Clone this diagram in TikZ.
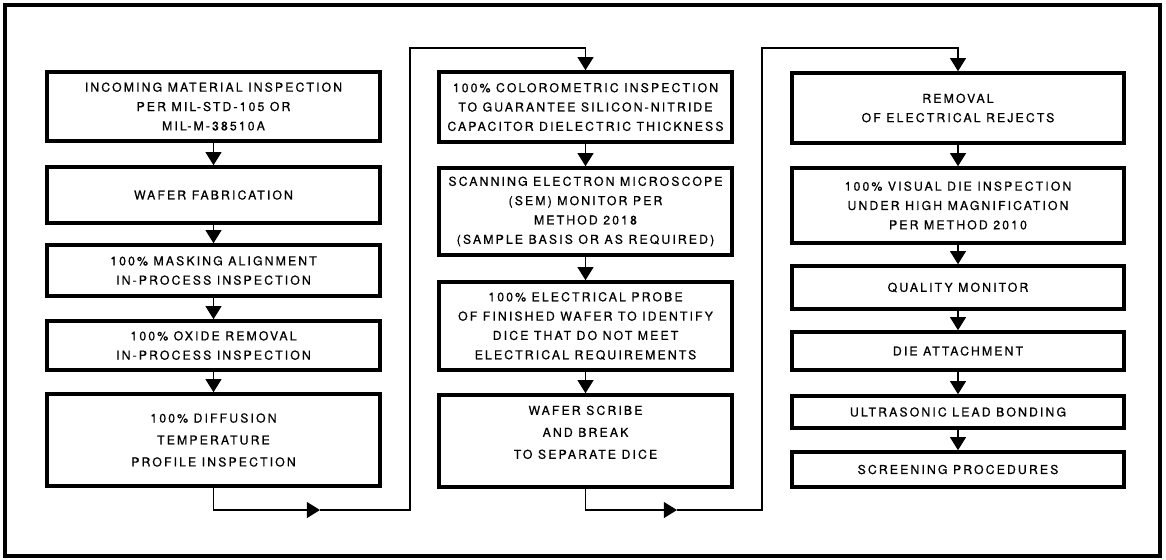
\documentclass[tikz,border=0pt]{standalone}
\usepackage{fontspec}
\newfontfamily\lettering[LetterSpace=17,FakeBold=0.6]{TeX Gyre Heros}
\usetikzlibrary{arrows.meta}
\tikzset{
  stepbox/.style={draw=black,line width=2pt,align=center,inner sep=0pt,
    font=\lettering\fontsize{7}{11}\selectfont},
  boxsize/.style 2 args={minimum width=#1*0.02cm,minimum height=#2*0.02cm},
  widelines/.style={font=\lettering\fontsize{7}{12.5}\selectfont},
  flow/.style={draw=black,line width=1.1pt,-{Triangle[width=9pt,length=7.5pt]}}
}
\begin{document}
\begin{tikzpicture}[x=0.02cm,y=-0.02cm]
\useasboundingbox (0,0) rectangle (1166,559);
\draw[line width=2.5pt] (5,5) rectangle (1160,556);

\begin{scope}[every node/.style={stepbox}]
  % first column
  \node[boxsize={333}{69}] (incoming) at (213.5,106.5) {INCOMING MATERIAL INSPECTION\\PER MIL-STD-105 OR\\MIL-M-38510A};
  \node[boxsize={333}{56}] (fab) at (213.5,195) {WAFER FABRICATION};
  \node[boxsize={333}{51}] (masking) at (213.5,270.5) {100\% MASKING ALIGNMENT\\IN-PROCESS INSPECTION};
  \node[boxsize={333}{49}] (oxide) at (213.5,345.5) {100\% OXIDE REMOVAL\\IN-PROCESS INSPECTION};
  \node[boxsize={333}{92},widelines] (diffusion) at (213.5,440) {100\,\% DIFFUSION\\TEMPERATURE\\PROFILE INSPECTION};
  % second column
  \node[boxsize={293}{70}] (colorimetric) at (585.5,107) {100\% COLOROMETRIC INSPECTION\\TO GUARANTEE SILICON-NITRIDE\\CAPACITOR DIELECTRIC THICKNESS};
  \node[boxsize={293}{87}] (sem) at (585.5,211.5) {SCANNING ELECTRON MICROSCOPE\\(SEM) MONITOR PER\\METHOD 2018\\(SAMPLE BASIS OR AS REQUIRED)};
  \node[boxsize={293}{88}] (probe) at (585.5,326) {100\% ELECTRICAL PROBE\\OF FINISHED WAFER TO IDENTIFY\\DICE THAT DO NOT MEET\\ELECTRICAL REQUIREMENTS};
  \node[boxsize={293}{92},widelines,text depth=10pt] (scribe) at (585.5,441) {WAFER SCRIBE\\AND BREAK\\TO SEPARATE DICE};
  % third column
  \node[boxsize={332}{70}] (rejects) at (958,108) {REMOVAL\\OF ELECTRICAL REJECTS};
  \node[boxsize={332}{75}] (visual) at (958,205.5) {100\% VISUAL DIE INSPECTION\\UNDER HIGH MAGNIFICATION\\PER METHOD 2010};
  \node[boxsize={332}{43}] (quality) at (958,287.5) {QUALITY MONITOR};
  \node[boxsize={332}{38}] (attach) at (958,351) {DIE ATTACHMENT};
  \node[boxsize={332}{32}] (bonding) at (958,412) {ULTRASONIC LEAD BONDING};
  \node[boxsize={332}{35}] (screening) at (958,469.5) {SCREENING PROCEDURES};
\end{scope}

\coordinate (tipA) at (320,510);
\coordinate (turnA) at (410,510);
\coordinate (topA) at (410,48);
\coordinate (tipB) at (677,510);
\coordinate (turnB) at (762,510);
\coordinate (topB) at (762,48);

\begin{scope}[every edge/.style={flow}]
  \path (incoming) edge (fab);
  \path (fab) edge (masking);
  \path (masking) edge (oxide);
  \path (oxide) edge (diffusion);
  \path (colorimetric) edge (sem);
  \path (sem) edge (probe);
  \path (probe) edge (scribe);
  \path (rejects) edge (visual);
  \path (visual) edge (quality);
  \path (quality) edge (attach);
  \path (attach) edge (bonding);
  \path (bonding) edge (screening);
\end{scope}

% loops between the columns
\draw[flow] (diffusion.south) |- (tipA);
\draw[flow] (tipA) -- (turnA) -- (topA) -| (colorimetric.north);
\draw[flow] (scribe.south) |- (tipB);
\draw[flow] (tipB) -- (turnB) -- (topB) -| (rejects.north);
\end{tikzpicture}
\end{document}
